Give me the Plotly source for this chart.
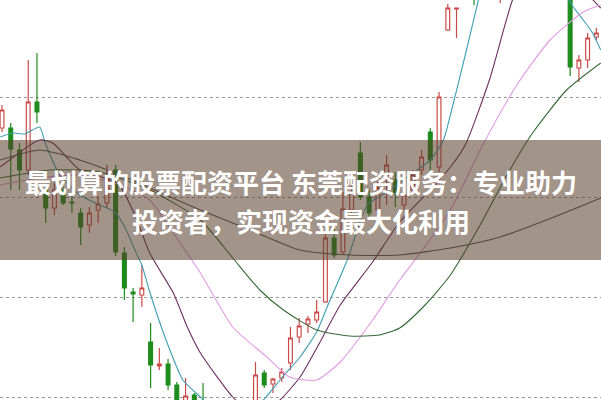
import plotly.graph_objects as go

# ---- candle data (index, open, high, low, close) ----
idx = list(range(69))
opens = [11.69, 11.69, 11.47, 11.27, 11.95, 11.07, 10.89, 11.07, 10.95, 10.84,
         10.72, 10.87, 10.94, 11.27, 10.44, 10.05, 10.02, 9.55, 9.31, 9.33,
         9.12, 8.95, 9.02, 8.92, 8.82, 8.69, 8.57, 8.65, 8.72, 8.87,
         9.24, 9.13, 9.19, 9.34, 9.60, 9.73, 9.77, 9.95, 10.59, 10.45,
         10.87, 11.44, 11.00, 10.87, 11.20, 11.17, 10.92, 11.07, 11.27, 11.65,
         11.30, 12.67, 12.88, 13.10, 13.30, 13.15, 13.40, 13.05, 13.30, 13.55,
         13.38, 13.62, 13.48, 13.70, 13.50, 13.30, 12.29, 12.37, 12.60]
highs = [11.92, 11.74, 11.54, 12.37, 12.44, 11.12, 11.14, 11.10, 11.01, 10.89,
         10.90, 11.01, 11.32, 11.32, 10.50, 10.09, 10.32, 9.74, 9.49, 9.38,
         9.15, 9.19, 9.04, 9.14, 8.92, 8.77, 8.72, 8.82, 8.92, 9.35,
         9.27, 9.19, 9.29, 9.70, 9.79, 9.81, 9.97, 10.69, 10.69, 11.05,
         11.14, 11.55, 11.07, 11.17, 11.42, 11.25, 11.12, 11.27, 11.47, 11.69,
         12.05, 12.93, 12.89, 13.40, 13.38, 13.42, 13.50, 13.36, 13.58, 13.62,
         13.68, 13.70, 13.78, 13.75, 13.68, 13.40, 12.42, 12.64, 12.69]
lows = [11.65, 11.07, 11.07, 11.22, 11.74, 10.74, 10.82, 10.92, 10.84, 10.52,
        10.64, 10.74, 10.89, 10.41, 9.97, 9.75, 9.90, 9.09, 9.27, 9.07,
        8.87, 8.92, 8.87, 8.72, 8.57, 8.47, 8.47, 8.57, 8.67, 8.85,
        9.09, 9.04, 9.15, 9.27, 9.54, 9.64, 9.74, 9.94, 10.39, 10.43,
        10.82, 10.97, 10.79, 10.82, 10.92, 10.90, 10.87, 11.02, 11.22, 11.24,
        11.25, 12.66, 12.59, 13.02, 12.92, 13.08, 13.10, 12.94, 13.22, 13.28,
        13.30, 13.38, 13.40, 13.40, 13.45, 12.21, 12.15, 12.29, 12.57]
closes = [11.87, 11.48, 11.27, 11.95, 11.85, 10.89, 11.07, 10.94, 10.94, 10.70,
          10.84, 10.93, 11.20, 10.45, 10.09, 10.03, 10.09, 9.32, 9.33, 9.12,
          8.92, 9.01, 8.92, 8.77, 8.67, 8.57, 8.67, 8.72, 8.85, 9.22,
          9.12, 9.18, 9.25, 9.59, 9.71, 9.78, 9.85, 10.59, 10.42, 10.88,
          11.05, 11.00, 10.84, 11.09, 11.32, 11.04, 11.02, 11.22, 11.40, 11.37,
          12.00, 12.89, 12.89, 13.30, 13.10, 13.35, 13.20, 13.30, 13.50, 13.35,
          13.60, 13.45, 13.70, 13.50, 13.60, 12.30, 12.37, 12.59, 12.64]

# ---- moving-average lines (index position, price) ----
ma5_x = [-0.2, 1.3, 2.6, 4.3, 4.9, 6.6, 8.9, 11.2, 12.9, 14.1, 15.2, 16.0, 16.9, 18.9,
         20.7, 22.7, 24.4, 27.2, 29.9, 32.0, 34.1, 36.0, 37.2, 39.5, 41.8, 44.4, 46.7,
         49.0, 50.5, 51.3, 53.0, 54.5, 55.8, 59.3, 62.7, 64.4, 65.2, 66.5, 67.5, 68.5]
ma5_y = [11.60, 11.64, 11.63, 11.70, 11.55, 11.22, 11.02, 10.92, 10.85, 10.69, 10.47,
         10.32, 10.05, 9.54, 9.17, 9.00, 8.87, 8.77, 8.97, 9.19, 9.40, 9.65, 9.90,
         10.37, 10.92, 11.07, 11.22, 11.37, 11.57, 11.82, 12.42, 12.97, 13.47, 14.17,
         13.77, 13.07, 12.92, 12.77, 12.65, 12.47]
ma10_x = [-0.2, 4.3, 5.8, 8.9, 13.2, 15.2, 16.9, 19.6, 21.2, 22.7, 26.4, 28.4, 30.1,
          31.8, 34.1, 36.7, 38.7, 42.4, 45.5, 49.0, 51.3, 53.0, 55.8, 58.4, 61.6, 65.0,
          66.7, 68.5]
ma10_y = [11.30, 11.57, 11.54, 11.27, 11.14, 10.82, 10.44, 10.04, 9.70, 9.44, 9.00,
          8.85, 8.87, 8.97, 9.20, 9.60, 9.92, 10.35, 10.75, 11.07, 11.30, 11.52, 12.18,
          12.97, 13.60, 13.57, 13.07, 12.89]
ma20_x = [-0.2, 4.3, 8.9, 13.5, 16.9, 19.2, 22.7, 26.4, 30.3, 32.9, 36.0, 38.7, 42.4,
          45.5, 48.1, 51.3, 55.0, 58.9, 62.7, 66.5, 68.5]
ma20_y = [11.12, 11.19, 11.22, 11.12, 10.97, 10.69, 10.24, 9.70, 9.40, 9.20, 9.17,
          9.35, 9.77, 10.17, 10.47, 10.87, 11.52, 12.12, 12.57, 12.85, 12.92]
ma30_x = [-0.2, 5.5, 11.2, 16.9, 22.7, 26.4, 29.5, 32.2, 36.0, 39.8, 43.2, 45.5, 48.4,
          51.3, 54.7, 58.1, 60.7, 64.6, 68.5]
ma30_y = [11.19, 11.27, 11.25, 11.07, 10.77, 10.39, 10.07, 9.87, 9.67, 9.61, 9.62,
          9.69, 9.92, 10.22, 10.72, 11.27, 11.64, 12.07, 12.34]
ma60_x = [-0.2, 4.3, 8.9, 13.5, 16.9, 22.7, 28.4, 34.1, 39.8, 45.5, 51.3, 57.0, 64.6, 68.5]
ma60_y = [11.37, 11.47, 11.37, 11.22, 11.09, 10.87, 10.67, 10.47, 10.42, 10.42, 10.49,
          10.60, 10.85, 10.99]

grid_levels = [9, 10, 11, 12]
title_line1 = "最划算的股票配资平台 东莞配资服务：专业助力"
title_line2 = "投资者，实现资金最大化利用"

RED = "#cc4a4a"
GREEN = "#1c8c1c"

fig = go.Figure()
fig.add_trace(go.Candlestick(
    x=idx, open=opens, high=highs, low=lows, close=closes,
    increasing=dict(line=dict(color=RED, width=1.2), fillcolor="white"),
    decreasing=dict(line=dict(color=GREEN, width=1.2), fillcolor=GREEN),
    whiskerwidth=0, showlegend=False, hoverinfo="skip"))

for xs, ys, col in [(ma5_x, ma5_y, "#3f9fb2"), (ma10_x, ma10_y, "#6e2f62"),
                    (ma20_x, ma20_y, "#e29ae2"), (ma30_x, ma30_y, "#356a35"),
                    (ma60_x, ma60_y, "#505a50")]:
    fig.add_trace(go.Scatter(x=xs, y=ys, mode="lines",
                             line=dict(color=col, width=1.1, shape="spline", smoothing=0.6),
                             showlegend=False, hoverinfo="skip"))

fig.add_shape(type="rect", xref="paper", yref="paper", x0=0, x1=1, y0=0.35, y1=0.65,
              fillcolor="rgba(85,60,40,0.55)", line=dict(width=0), layer="above")

fig.add_annotation(xref="paper", yref="paper", x=0.5, y=1 - 181.5 / 400, text="<b>" + title_line1 + "</b>",
                   showarrow=False, xanchor="center", yanchor="middle",
                   font=dict(family="Noto Sans CJK SC", size=26, color="white"))
fig.add_annotation(xref="paper", yref="paper", x=0.5, y=1 - 220 / 400, text="<b>" + title_line2 + "</b>",
                   showarrow=False, xanchor="center", yanchor="middle",
                   font=dict(family="Noto Sans CJK SC", size=26, color="white"))

fig.update_layout(
    width=601, height=400, margin=dict(l=0, r=0, t=0, b=0),
    paper_bgcolor="white", plot_bgcolor="white", boxgap=0.38,
    xaxis=dict(range=[-0.229, 68.53], visible=False, rangeslider=dict(visible=False), fixedrange=True),
    yaxis=dict(range=[8.97, 12.97], showticklabels=False, zeroline=False, showline=False,
               tickvals=grid_levels, showgrid=True, gridcolor="#9a9a9a", griddash="dot",
               gridwidth=1, fixedrange=True),
)

fig.write_html("out.html", config={"displayModeBar": False},
               post_script="document.body.style.margin='0';document.body.style.overflow='hidden';")
